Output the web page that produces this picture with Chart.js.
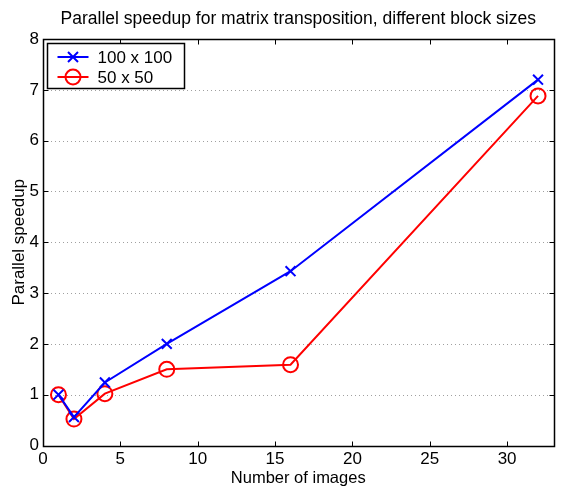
<!DOCTYPE html>
<html>
<head>
<meta charset="utf-8">
<script src="https://cdn.jsdelivr.net/npm/chart.js@4/dist/chart.umd.min.js"></script>
<style>
  html, body { margin: 0; padding: 0; background: #fff; }
  #wrap { width: 563px; height: 492px; overflow: hidden; }
</style>
</head>
<body>
<div id="wrap"><canvas id="c" width="563" height="492"></canvas></div>
<script>
const chartTitle = "Parallel speedup for matrix transposition, different block sizes";
const xAxisTitle = "Number of images";
const yAxisTitle = "Parallel speedup";
const seriesNames = ["100 x 100", "50 x 50"];
const images = [1, 2, 4, 8, 16, 32];
const speedup100 = [1.0, 0.56, 1.24, 2.0, 3.43, 7.2];
const speedup50 = [1.0, 0.52, 1.02, 1.5, 1.59, 6.88];
const xTicks = [0, 5, 10, 15, 20, 25, 30];
const yTicks = [0, 1, 2, 3, 4, 5, 6, 7, 8];
const xMin = 0, xMax = 33;
const yMin = 0, yMax = 8;

const FONT = "'Liberation Sans', Arial, Helvetica, sans-serif";

const toPoints = (xs, ys) => xs.map((x, i) => ({ x: x, y: ys[i] }));

const frame = {
  id: 'frame',
  beforeDatasetsDraw(chart) {
    const { ctx, chartArea: a, scales } = chart;
    ctx.save();
    ctx.strokeStyle = '#a0a0a0';
    ctx.lineWidth = 1;
    ctx.setLineDash([1, 3]);
    yTicks.forEach(v => {
      if (v === yMin || v === yMax) return;
      const y = Math.round(scales.y.getPixelForValue(v)) + 0.5;
      ctx.beginPath();
      ctx.moveTo(a.left, y);
      ctx.lineTo(a.right, y);
      ctx.stroke();
    });
    ctx.restore();
  },
  afterDraw(chart) {
    const { ctx, chartArea: a, scales } = chart;
    ctx.save();
    ctx.strokeStyle = '#000';
    ctx.lineWidth = 1;
    ctx.setLineDash([]);
    const L = Math.round(a.left) + 0.5, R = Math.round(a.right) + 0.5;
    const T = Math.round(a.top) + 0.5, B = Math.round(a.bottom) + 0.5;
    const tl = 5;
    ctx.beginPath();
    xTicks.forEach(v => {
      const x = Math.round(scales.x.getPixelForValue(v)) + 0.5;
      ctx.moveTo(x, B); ctx.lineTo(x, B - tl);
      ctx.moveTo(x, T); ctx.lineTo(x, T + tl);
    });
    yTicks.forEach(v => {
      const y = Math.round(scales.y.getPixelForValue(v)) + 0.5;
      ctx.moveTo(L, y); ctx.lineTo(L + tl, y);
      ctx.moveTo(R, y); ctx.lineTo(R - tl, y);
    });
    ctx.stroke();
    ctx.lineWidth = 1.5;
    ctx.strokeRect(L, T, R - L, B - T);

    // legend
    const lx = L + 4, ly = T + 4, lw = 137, lh = 45;
    ctx.fillStyle = '#fff';
    ctx.fillRect(lx, ly, lw, lh);
    ctx.lineWidth = 1.5;
    ctx.strokeStyle = '#000';
    ctx.strokeRect(lx, ly, lw, lh);
    ctx.font = '17px ' + FONT;
    ctx.textBaseline = 'middle';
    ctx.textAlign = 'left';
    chart.data.datasets.forEach((ds, i) => {
      const cy = ly + 13.5 + i * 20;
      const x0 = lx + 10, x1 = lx + 41, cx = (x0 + x1) / 2;
      ctx.strokeStyle = ds.borderColor;
      ctx.lineWidth = 2;
      ctx.beginPath();
      ctx.moveTo(x0, cy); ctx.lineTo(x1, cy);
      ctx.stroke();
      if (ds.pointStyle === 'crossRot') {
        const r = 5;
        ctx.beginPath();
        ctx.moveTo(cx - r, cy - r); ctx.lineTo(cx + r, cy + r);
        ctx.moveTo(cx - r, cy + r); ctx.lineTo(cx + r, cy - r);
        ctx.stroke();
      } else {
        ctx.beginPath();
        ctx.arc(cx, cy, 7.5, 0, Math.PI * 2);
        ctx.stroke();
      }
      ctx.fillStyle = '#000';
      ctx.fillText(ds.label, lx + 50, cy + 1);
    });
    ctx.restore();
  }
};

new Chart(document.getElementById('c'), {
  type: 'line',
  data: {
    datasets: [
      {
        label: seriesNames[0],
        data: toPoints(images, speedup100),
        borderColor: '#0000ff',
        backgroundColor: 'transparent',
        borderWidth: 2,
        pointStyle: 'crossRot',
        pointRadius: 7,
        pointBorderWidth: 2,
        pointBorderColor: '#0000ff',
        pointBackgroundColor: 'transparent',
        tension: 0,
        clip: false
      },
      {
        label: seriesNames[1],
        data: toPoints(images, speedup50),
        borderColor: '#ff0000',
        backgroundColor: 'transparent',
        borderWidth: 2,
        pointStyle: 'circle',
        pointRadius: 7.5,
        pointBorderWidth: 2,
        pointBorderColor: '#ff0000',
        pointBackgroundColor: 'transparent',
        tension: 0,
        clip: false
      }
    ]
  },
  options: {
    responsive: false,
    animation: false,
    events: [],
    layout: { padding: { left: 0, right: -2, top: 0, bottom: 0 } },
    plugins: {
      legend: { display: false },
      tooltip: { enabled: false },
      title: {
        display: true,
        fullSize: false,
        text: chartTitle,
        color: '#000',
        font: { family: FONT, size: 17.5, weight: 'normal', lineHeight: 1.2 },
        padding: { top: 9, bottom: 9 }
      }
    },
    scales: {
      x: {
        type: 'linear',
        min: xMin, max: xMax,
        afterBuildTicks: s => { s.ticks = xTicks.map(v => ({ value: v })); },
        afterFit: s => { s.height = 46.5; },
        grid: { display: false, drawTicks: false },
        border: { display: false },
        ticks: { color: '#000', font: { family: FONT, size: 17 }, padding: 4, maxRotation: 0 },
        title: { display: true, text: xAxisTitle, color: '#000', font: { family: FONT, size: 16.5, lineHeight: 1.2 }, padding: { top: 0, bottom: 4 } }
      },
      y: {
        min: yMin, max: yMax,
        afterBuildTicks: s => { s.ticks = yTicks.map(v => ({ value: v })); },
        afterFit: s => { s.width = 43; },
        grid: { display: false, drawTicks: false },
        border: { display: false },
        ticks: { color: '#000', font: { family: FONT, size: 17 }, padding: 4 },
        title: { display: true, text: yAxisTitle, color: '#000', font: { family: FONT, size: 17, lineHeight: 1.2 }, padding: { top: 9, bottom: 0 } }
      }
    }
  },
  plugins: [frame]
});
</script>
</body>
</html>
